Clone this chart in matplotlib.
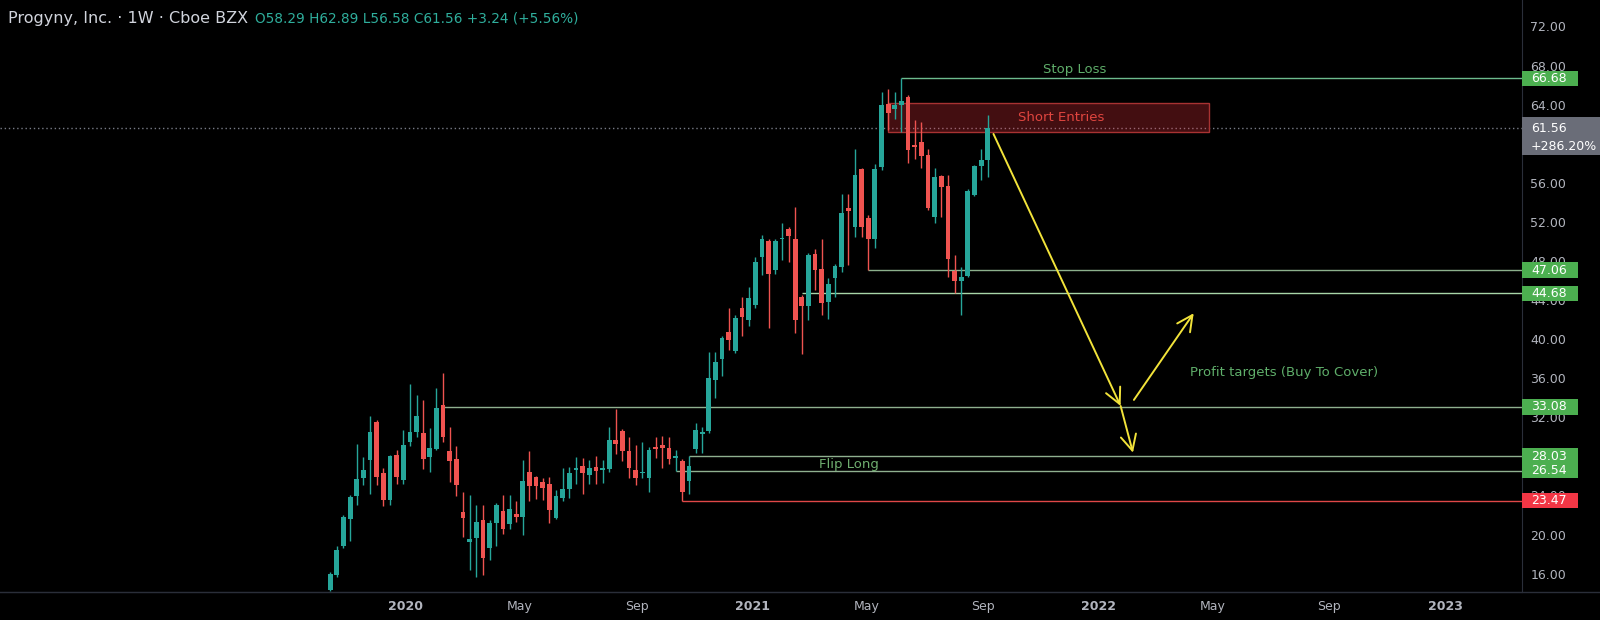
import matplotlib
matplotlib.use('Agg')
import matplotlib.pyplot as plt
import matplotlib.dates as mdates
from matplotlib.patches import Rectangle
from matplotlib.lines import Line2D
from matplotlib.transforms import blended_transform_factory
import numpy as np
import pandas as pd

# weekly candles
first_week = '2019-10-14'
opens = [14.3, 15.9, 18.8, 21.6, 23.9, 25.8, 27.6, 31.5, 26.3, 23.5,
         28.1, 25.6, 29.5, 30.5, 30.4, 27.9, 28.8, 33.3, 28.5, 27.7,
         22.3, 19.2, 19.6, 21.5, 18.6, 21.2, 22.4, 21.1, 22.1, 21.8,
         26.4, 25.9, 25.4, 25.2, 21.7, 23.7, 24.7, 26.6, 27.0, 26.1,
         26.9, 26.6, 26.7, 29.7, 30.6, 28.6, 26.6, 26.3, 25.8, 29.0,
         29.2, 28.9, 27.8, 27.5, 25.5, 28.8, 30.3, 30.6, 35.8, 38.0,
         40.7, 38.8, 43.2, 42.0, 43.5, 48.4, 50.0, 47.1, 50.2, 51.3,
         50.2, 44.3, 43.4, 48.7, 47.2, 43.8, 46.3, 47.4, 53.4, 51.5,
         57.4, 52.4, 50.2, 57.6, 64.1, 63.6, 64.0, 64.8, 59.8, 60.2,
         58.8, 52.5, 56.7, 55.7, 47.0, 46.0, 46.5, 54.8, 57.7, 58.29]
highs = [16.2, 18.8, 22.0, 24.0, 29.3, 27.9, 32.1, 31.7, 26.8, 28.1,
         28.7, 30.7, 35.4, 34.3, 33.8, 30.9, 35.0, 36.5, 31.0, 29.1,
         24.4, 24.0, 23.0, 23.0, 21.5, 23.2, 24.0, 24.0, 23.4, 27.6,
         28.5, 26.0, 25.8, 25.9, 24.6, 26.8, 26.9, 27.9, 27.8, 27.6,
         28.0, 27.6, 31.0, 32.8, 30.8, 30.0, 29.2, 29.5, 29.0, 30.0,
         30.1, 30.0, 28.7, 27.7, 28.03, 31.4, 31.0, 38.7, 38.7, 40.3,
         43.2, 42.5, 44.3, 45.3, 48.4, 50.7, 50.2, 50.3, 51.9, 51.5,
         53.5, 44.5, 48.8, 49.2, 50.2, 46.3, 47.7, 54.9, 54.9, 59.5,
         57.5, 52.7, 57.9, 65.3, 65.6, 65.3, 66.68, 65.0, 62.4, 62.2,
         59.5, 57.5, 56.8, 56.8, 48.6, 47.4, 55.4, 57.8, 59.5, 62.89]
lows = [14.2, 15.7, 18.6, 19.3, 23.0, 25.1, 24.2, 25.1, 22.9, 23.0,
        25.2, 25.2, 29.1, 30.0, 26.7, 26.4, 28.7, 29.5, 25.4, 23.9,
        19.8, 16.4, 15.7, 15.9, 17.4, 18.8, 20.1, 20.6, 21.3, 20.0,
        23.4, 23.6, 23.5, 21.2, 21.6, 23.4, 23.7, 25.2, 24.1, 25.2,
        25.2, 25.3, 26.4, 28.2, 27.5, 25.8, 25.1, 25.8, 24.4, 27.8,
        26.8, 27.2, 26.54, 23.47, 24.2, 28.3, 28.3, 30.4, 34.0, 36.2,
        38.9, 38.6, 40.3, 41.3, 43.2, 46.6, 41.1, 46.7, 48.1, 47.9,
        40.6, 38.5, 42.0, 45.0, 42.5, 42.1, 44.3, 46.9, 47.6, 50.5,
        50.5, 47.06, 49.3, 57.3, 61.4, 62.5, 61.2, 58.0, 58.4, 57.5,
        53.2, 51.9, 52.5, 46.4, 44.7, 42.5, 46.4, 54.6, 56.3, 56.58]
closes = [16.0, 18.4, 21.8, 23.8, 25.7, 26.6, 30.5, 25.9, 23.5, 28.0,
          25.9, 29.2, 30.5, 32.1, 27.7, 28.9, 33.0, 30.0, 27.5, 25.1,
          21.7, 19.5, 21.3, 17.6, 21.2, 23.0, 20.6, 22.6, 21.8, 25.5,
          25.0, 25.0, 24.8, 22.5, 23.9, 24.7, 26.3, 26.8, 26.3, 26.8,
          26.5, 26.8, 29.7, 29.3, 28.5, 26.8, 25.8, 26.4, 28.7, 28.8,
          28.9, 27.7, 28.0, 24.4, 27.0, 30.7, 30.5, 36.0, 37.7, 40.1,
          39.9, 42.2, 42.3, 44.2, 47.9, 50.2, 46.7, 50.0, 50.4, 50.6,
          42.0, 43.4, 48.6, 47.1, 43.7, 45.6, 47.5, 52.9, 53.1, 56.8,
          51.5, 50.3, 57.4, 64.0, 63.1, 64.0, 64.4, 59.4, 59.7, 58.7,
          53.4, 56.6, 55.6, 48.2, 46.0, 46.4, 55.2, 57.7, 58.3, 61.56]

# horizontal levels and the candle each one starts from
level_prices = [66.68, 47.06, 44.68, 33.08, 28.03, 26.54, 23.47]
level_start = [86, 81, 71, 17, 54, 52, 53]
last_price = 61.56
last_change = '+286.20%'

# short entry zone
zone_start = 84
zone_end = '2022-04-27'
zone_low, zone_high = 61.23, 64.2

# yellow arrows
arrow_from_dates = ['2021-09-12', '2022-01-24', '2022-02-07']
arrow_from_prices = [61.0, 33.16, 33.78]
arrow_to_dates = ['2022-01-24', '2022-02-06', '2022-04-11']
arrow_to_prices = [33.16, 28.38, 42.65]

# notes on the chart
note_texts = ['Stop Loss', 'Short Entries', 'Profit targets (Buy To Cover)', 'Flip Long']
note_dates = ['2021-12-07', '2021-11-22', '2022-04-07', '2021-04-13']
note_prices = [67.55, 62.7, 36.57, 27.22]

title = 'Progyny, Inc. \u00b7 1W \u00b7 Cboe BZX'
ohlc_text = 'O58.29 H62.89 L56.58 C61.56 +3.24 (+5.56%)'

x_ticks = ['2020-01-01', '2020-05-01', '2020-09-01', '2021-01-01', '2021-05-01',
           '2021-09-01', '2022-01-01', '2022-05-01', '2022-09-01', '2023-01-01']
x_labels = ['2020', 'May', 'Sep', '2021', 'May', 'Sep', '2022', 'May', 'Sep', '2023']
y_ticks = [v for v in range(16, 73, 4) if v != 60]   # 60 sits under the last-price tag

UP, DOWN = '#26a69a', '#ef5350'
GRID = '#2a2e39'
TXT = '#b2b5be'

fig = plt.figure(figsize=(16, 6.2), dpi=100, facecolor='black')
ax = fig.add_axes([0, 28 / 620, 1522 / 1600, 592 / 620], facecolor='black')

d = mdates.date2num(pd.date_range(first_week, periods=len(opens), freq='7D'))
o, h, l, c = map(np.array, (opens, highs, lows, closes))
col = np.where(c >= o, UP, DOWN)
ax.vlines(d, l, h, colors=col, lw=1.0, zorder=3)
ax.bar(d, np.maximum(np.abs(c - o), 0.12), bottom=np.minimum(o, c), width=5.0,
       color=col, linewidth=0, zorder=4)

x_left = mdates.date2num(pd.Timestamp('2018-10-31'))
x_right = mdates.date2num(pd.Timestamp('2023-03-23'))
ax.set_xlim(x_left, x_right)
ax.set_ylim(14.12, 74.71)

level_colors = ['#6dbb8e', '#8cb08c', '#a8d5a8', '#8fb08f', '#8fb08f', '#8fb08f', '#e04848']
box_colors = ['#4caf50'] * 6 + ['#f23645']
for p, s, lc in zip(level_prices, level_start, level_colors):
    ax.hlines(p, d[s], x_right, colors=lc, lw=1.0, zorder=2)

# short entries zone
zx = d[zone_start]
zx2 = mdates.date2num(pd.Timestamp(zone_end))
ax.add_patch(Rectangle((zx, zone_low), zx2 - zx, zone_high - zone_low,
                       fc=(0.95, 0.2, 0.25, 0.28), ec='#a83232', lw=1.0, zorder=2))

# last price dotted line
ax.axhline(last_price, color='#787b86', lw=1.0, ls=(0, (1, 2)), zorder=1)

# arrows
for fd, fp, td, tp in zip(arrow_from_dates, arrow_from_prices, arrow_to_dates, arrow_to_prices):
    ax.annotate('', xy=(mdates.date2num(pd.Timestamp(td)), tp),
                xytext=(mdates.date2num(pd.Timestamp(fd)), fp),
                arrowprops=dict(arrowstyle='->,head_length=0.7,head_width=0.35',
                                color='#f2e33a', lw=1.4, mutation_scale=16,
                                shrinkA=0, shrinkB=0), zorder=6)

note_colors = ['#5fae6a', '#e0453f', '#5fae6a', '#6fae6f']
note_align = ['center', 'center', 'left', 'center']
for t, nd, npr, nc, ha in zip(note_texts, note_dates, note_prices, note_colors, note_align):
    ax.text(mdates.date2num(pd.Timestamp(nd)), npr, t, color=nc, fontsize=9.5,
            ha=ha, va='center', zorder=7)

# axes styling
for s in ['top', 'left']:
    ax.spines[s].set_visible(False)
ax.spines['right'].set_color(GRID)
ax.spines['bottom'].set_color(GRID)
fig.add_artist(Line2D([0, 1], [28 / 620, 28 / 620], color=GRID, lw=1.0))

ax.yaxis.tick_right()
ax.set_yticks(y_ticks)
ax.set_yticklabels([f'{v:.2f}' for v in y_ticks])
ax.tick_params(axis='y', length=0, pad=6, labelsize=9, colors=TXT)

ax.set_xticks([mdates.date2num(pd.Timestamp(t)) for t in x_ticks])
ax.set_xticklabels(x_labels)
ax.tick_params(axis='x', length=0, pad=6, labelsize=9, colors=TXT)
for lab in ax.get_xticklabels():
    if lab.get_text().isdigit():
        lab.set_fontweight('bold')

# price labels on the scale
blend = blended_transform_factory(ax.transAxes, ax.transData)
for p, bc in zip(level_prices, box_colors):
    ax.add_patch(Rectangle((1.0, p - 0.8), 56 / 1522, 1.6, transform=blend,
                           fc=bc, ec='none', clip_on=False, zorder=8))
    ax.text(1 + 9 / 1522, p, f'{p:.2f}', transform=blend, color='white', fontsize=9,
            ha='left', va='center', clip_on=False, zorder=9)

ax.add_patch(Rectangle((1.0, last_price - 2.71), 78 / 1522, 3.89, transform=blend,
                       fc='#6a6d78', ec='none', clip_on=False, zorder=8))
ax.text(1 + 9 / 1522, last_price, f'{last_price:.2f}', transform=blend, color='white',
        fontsize=9, ha='left', va='center', clip_on=False, zorder=9)
ax.text(1 + 9 / 1522, last_price - 1.8, last_change, transform=blend, color='white',
        fontsize=9, ha='left', va='center', clip_on=False, zorder=9)

# header
t1 = fig.text(8 / 1600, 1 - 18 / 620, title, color='#d1d4dc', fontsize=11.5,
              ha='left', va='center')
ax.annotate(ohlc_text, xy=(1, 0.5), xycoords=t1, xytext=(5, 0), textcoords='offset points',
            color='#2fae9c', fontsize=9.8, ha='left', va='center')

fig.savefig('out.png', dpi=100, facecolor='black')
